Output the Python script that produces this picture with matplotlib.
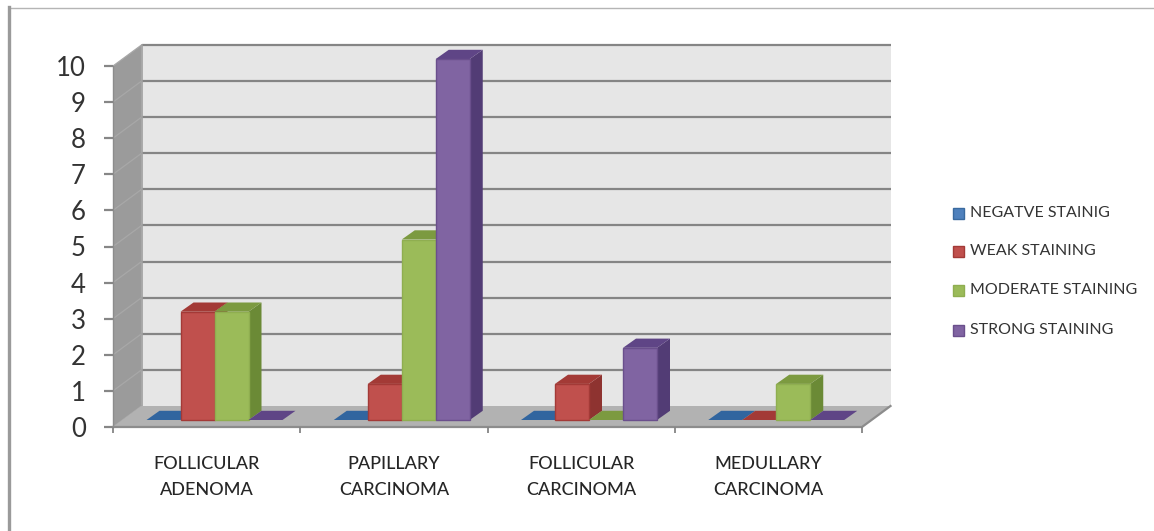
import matplotlib
matplotlib.use("Agg")
import matplotlib.pyplot as plt
from matplotlib.patches import Polygon, Rectangle

categories = ["FOLLICULAR\nADENOMA", "PAPILLARY\nCARCINOMA", "FOLLICULAR\nCARCINOMA", "MEDULLARY\nCARCINOMA"]
series_names = ["NEGATVE STAINIG", "WEAK STAINING", "MODERATE STAINING", "STRONG STAINING"]
negative = [0, 0, 0, 0]
weak = [3, 1, 1, 0]
moderate = [3, 5, 0, 1]
strong = [0, 10, 2, 0]
y_ticks = list(range(0, 11))

front_colors = ["#4F81BD", "#C0504D", "#9BBB59", "#8064A2"]
edge_colors = ["#3A6A9F", "#A33A37", "#8FAE50", "#6A4F8C"]
top_colors = ["#31659F", "#A33A36", "#7C9A40", "#5F4586"]
side_colors = ["#2F5A8C", "#8E3330", "#6B8A36", "#523C75"]

W, H = 1154, 531
fig = plt.figure(figsize=(W / 100, H / 100), dpi=100, facecolor="white")
ax = fig.add_axes([0, 0, 1, 1])

# One category spans 187.25 px, one unit of value 36.1 px.
CAT, UNIT = 187.25, 36.1
X0, Y0 = 113, 427
ax.set_xlim(-X0 / CAT, (W - X0) / CAT)
ax.set_ylim((Y0 - H) / UNIT, Y0 / UNIT)
ax.axis("off")

DX, DY = 28.5 / CAT, 21 / UNIT            # chart box depth
BDX, BDY = 13 / CAT, 9.2 / UNIT           # bar depth
BAR_W = 34 / CAT
BAR_START = 33.5 / CAT
BASE_Y = 7 / UNIT                         # bars stand slightly inside the floor
N = len(categories)
TOP = y_ticks[-1]


def poly(points, color, z, edge="none", lw=0):
    ax.add_patch(Polygon(points, closed=True, facecolor=color, edgecolor=edge,
                         linewidth=lw, zorder=z))


# Walls and floor
poly([(0, 0), (DX, DY), (DX, TOP + DY), (0, TOP)], "#9B9B9B", 1)
poly([(DX, DY), (N + DX, DY), (N + DX, TOP + DY), (DX, TOP + DY)], "#E6E6E6", 1)
poly([(0, 0), (N, 0), (N + DX, DY), (DX, DY)], "#B2B2B2", 2)

for v in y_ticks:
    if v > 0:
        ax.plot([DX, N + DX], [v + DY, v + DY], color="#858585", lw=1.6, zorder=1.5,
                solid_capstyle="butt")
    ax.plot([0, DX], [v, v + DY], color="#A8A8A8", lw=0.9, zorder=1.5)
    ax.plot([-9 / CAT, 0], [v, v], color="#868686", lw=1.6, zorder=3, solid_capstyle="butt")
    ax.text(-27 / CAT, v, str(v), ha="right", va="center_baseline", fontsize=18.5,
            family="Lato", color="#333333", zorder=5)

ax.plot([DX, DX], [DY, TOP + DY], color="#A0A0A0", lw=1.2, zorder=1.6)
ax.plot([0, 0], [0, TOP], color="#8C8C8C", lw=1.0, zorder=3)
ax.plot([0, N, N + DX], [0, 0, DY], color="#8C8C8C", lw=1.6, zorder=3,
        solid_joinstyle="miter")
for c in range(N + 1):
    ax.plot([c, c], [0, -6 / UNIT], color="#858585", lw=1.3, zorder=3, solid_capstyle="butt")

# Bars, drawn left to right so each one covers its neighbour's side face
z = 10
for c in range(N):
    for s, values in enumerate([negative, weak, moderate, strong]):
        v = values[c]
        left = c + BAR_START + s * BAR_W
        right = left + BAR_W
        bottom = BASE_Y
        top = BASE_Y + v
        if v > 0:
            poly([(right, bottom), (right + BDX, bottom + BDY),
                  (right + BDX, top + BDY), (right, top)], side_colors[s], z)
        poly([(left, top), (right, top), (right + BDX, top + BDY),
              (left + BDX, top + BDY)], top_colors[s], z)
        if v > 0:
            ax.add_patch(Rectangle((left, bottom), BAR_W, v, facecolor=front_colors[s],
                                   edgecolor=edge_colors[s], linewidth=1.0, zorder=z + 0.5))
        z += 1

# Category labels
for c, label in enumerate(categories):
    ax.text(c + 0.5, -50 / UNIT, label, ha="center", va="center", fontsize=13,
            family="Lato", weight="medium", color="#262626", linespacing=1.75, zorder=5)

# Legend
legend_rows = [213, 251, 290, 330]
for s, (name, py) in enumerate(zip(series_names, legend_rows)):
    lx = (953 - X0) / CAT
    ly = (Y0 - py) / UNIT
    ax.add_patch(Rectangle((lx, ly - 5.5 / UNIT), 11 / CAT, 11 / UNIT,
                           facecolor=front_colors[s], edgecolor=edge_colors[s],
                           linewidth=1.0, zorder=5))
    ax.text((970 - X0) / CAT, ly, name, ha="left", va="center", fontsize=11.5,
            family="Lato", color="#333333", zorder=5)

# Thin frame along the top and left of the image
ax.plot([(9 - X0) / CAT, (W - X0) / CAT], [(Y0 - 7.5) / UNIT] * 2, color="#B5B5B5", lw=1.0, zorder=6)
ax.plot([(9 - X0) / CAT] * 2, [(Y0 - 7) / UNIT, (Y0 - H) / UNIT], color="#9A9A9A", lw=2.4, zorder=6)

fig.savefig("out.png", dpi=100, facecolor="white")
